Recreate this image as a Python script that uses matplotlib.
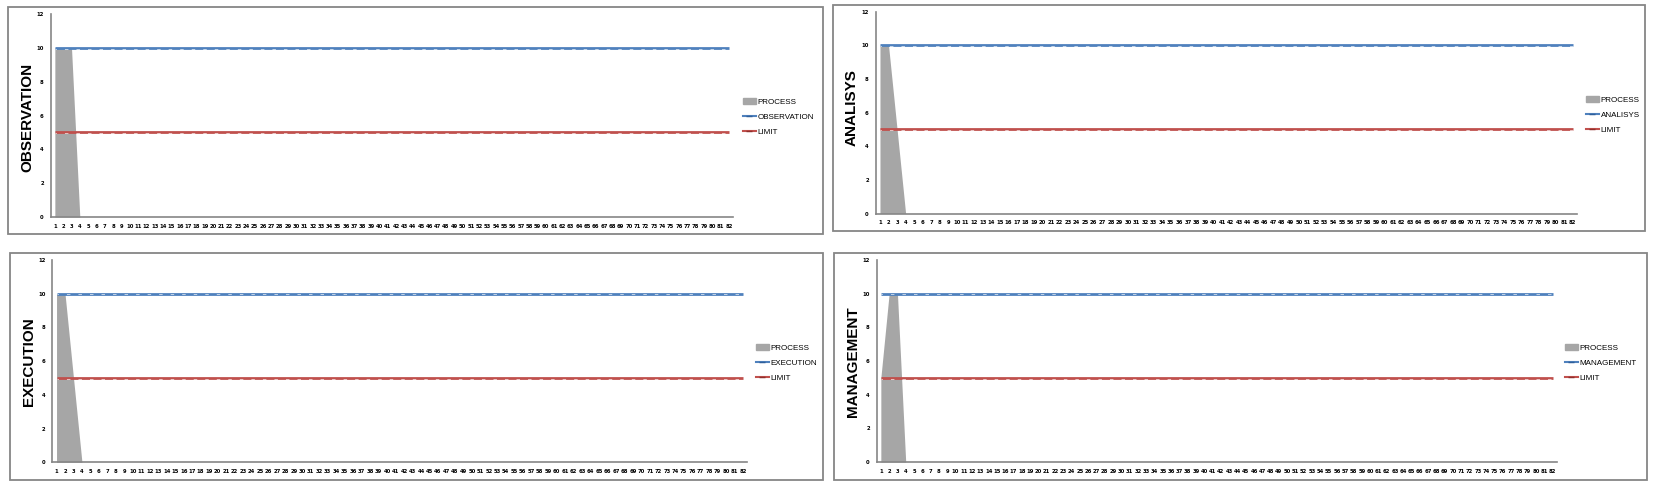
import matplotlib.pyplot as plt
from matplotlib.patches import Rectangle, Patch
from matplotlib.lines import Line2D

plt.rcParams['lines.scale_dashes'] = False

# data
categories = list(range(1, 83))
process_observation = [10, 10, 10, 0] + [0] * 78
process_analisys = [10, 10, 5, 0] + [0] * 78
process_execution = [10, 10, 5, 0] + [0] * 78
process_management = [5, 10, 10, 0] + [0] * 78
target = [10] * 82
limit = [5] * 82
names = ['OBSERVATION', 'ANALISYS', 'EXECUTION', 'MANAGEMENT']
processes = [process_observation, process_analisys, process_execution, process_management]

W, H = 1658, 491
BLUE = '#4F81BD'
RED = '#C0504D'
GRAY = '#A6A6A6'
EDGE = '#868686'

# pixel layout of each panel: box (x0, y0, x1, y1), axes (left, right, y_of_0, y_of_12),
# label centre, legend anchor
boxes = [(8, 7, 823, 234), (833, 5, 1645, 231), (10.5, 253, 823, 479.5), (834, 253, 1647, 480)]
axes_px = [(50.7, 733, 217, 14), (875.7, 1577, 213.5, 11.7),
           (52.3, 747.3, 462.3, 260), (876.7, 1556.7, 462, 260)]
label_px = [(27, 117), (852, 108), (29.5, 362), (853.5, 362)]
legend_px = [(743, 98), (1586, 96), (756, 344), (1565, 344)]

fig = plt.figure(figsize=(W / 100, H / 100), dpi=100)
fig.patch.set_facecolor('white')

for i in range(4):
    bx0, by0, bx1, by1 = boxes[i]
    fig.add_artist(Rectangle((bx0 / W, 1 - by1 / H), (bx1 - bx0) / W, (by1 - by0) / H,
                             transform=fig.transFigure, fill=False, edgecolor=EDGE, lw=1.3))
    left, right, yb, yt = axes_px[i]
    ax = fig.add_axes([left / W, 1 - yb / H, (right - left) / W, (yb - yt) / H])
    ax.fill_between(categories, processes[i], color=GRAY, lw=0)
    for vals, col in [(target, BLUE), (limit, RED)]:
        ax.plot(categories, vals, color=col, lw=2.0, solid_capstyle='butt')
        ax.plot(categories, [v - 0.04 for v in vals], color='white', lw=0.5,
                linestyle=(1.5, (2.5, 5.8)), alpha=0.9)
    ax.set_xlim(0.5, 82.5)
    ax.set_ylim(0, 12)
    ax.set_xticks(categories)
    ax.set_xticklabels([str(c) for c in categories])
    ax.set_yticks(range(0, 13, 2))
    ax.tick_params(length=0, labelsize=3.8, pad=5)
    for lab in ax.get_xticklabels() + ax.get_yticklabels():
        lab.set_fontweight('bold')
    for s in ['top', 'right']:
        ax.spines[s].set_visible(False)
    for s in ['left', 'bottom']:
        ax.spines[s].set_color(EDGE)
        ax.spines[s].set_linewidth(1.2)

    lx, ly = label_px[i]
    fig.text(lx / W, 1 - ly / H, names[i], rotation=90, ha='center', va='center',
             fontsize=11, fontweight='bold', family=['Liberation Sans Narrow', 'Liberation Sans'])

    handles = [Patch(color=GRAY),
               Line2D([], [], color=BLUE, lw=1.5, marker='_', ms=4, mec='#2F5F9A'),
               Line2D([], [], color=RED, lw=1.5, marker='_', ms=4, mec='#8F2F2C')]
    gx, gy = legend_px[i]
    fig.legend(handles, ['PROCESS', names[i], 'LIMIT'], loc='upper left',
               bbox_to_anchor=(gx / W, 1 - gy / H), frameon=False,
               handlelength=1.6, handleheight=0.7, handletextpad=0.2, labelspacing=0.95,
               borderpad=0, borderaxespad=0, prop={'family': 'Liberation Sans', 'size': 5.8})

fig.savefig('out.png', dpi=100)
